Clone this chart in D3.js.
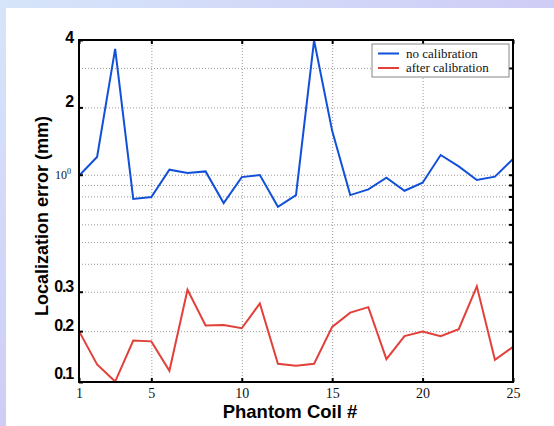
<!DOCTYPE html>
<html>
<head>
<meta charset="utf-8">
<script src="https://cdn.jsdelivr.net/npm/d3@7"></script>
<style>
  body { margin: 0; }
  svg { display: block; }
</style>
</head>
<body>
<svg id="chart"></svg>
<script>
// coil numbers and localization errors (mm)
const coils = d3.range(1, 26);
const noCalibration = [0.99, 1.20, 3.65, 0.78, 0.795, 1.053, 1.018, 1.035, 0.747, 0.976,
  0.997, 0.719, 0.811, 3.98, 1.57, 0.811, 0.86, 0.97, 0.848, 0.921,
  1.225, 1.089, 0.947, 0.98, 1.175];
const afterCalibration = [0.200, 0.142, 0.119, 0.1815, 0.180, 0.133, 0.306, 0.212, 0.213, 0.206,
  0.266, 0.143, 0.140, 0.143, 0.209, 0.242, 0.256, 0.150, 0.190, 0.199,
  0.190, 0.204, 0.317, 0.149, 0.170];
const seriesNames = ["no calibration", "after calibration"];

const xTicks = [1, 5, 10, 15, 20, 25];
const yTicks = [0.1185, 0.2, 0.3, 1, 2, 4];
const yTickLabels = ["0.1", "0.2", "0.3", "10^0", "2", "4"];
const yGrid = [0.2, 0.3, 0.4, 0.5, 0.6, 0.7, 0.8, 0.9, 1, 2, 3];

const width = 554, height = 426;
const plotLeft = 79, plotRight = 513, plotTop = 40, plotBottom = 382;

const svg = d3.select('#chart')
  .attr('width', width)
  .attr('height', height);

// background frame
const defs = svg.append('defs');
const grad = defs.append('linearGradient')
  .attr('id', 'frame')
  .attr('x1', '0%').attr('y1', '0%')
  .attr('x2', '100%').attr('y2', '100%');
grad.append('stop').attr('offset', '0%').attr('stop-color', '#d6e5fa');
grad.append('stop').attr('offset', '100%').attr('stop-color', '#c8b4f2');
svg.append('rect').attr('width', width).attr('height', height).attr('fill', 'url(#frame)');
svg.append('rect').attr('x', 6).attr('y', 8).attr('width', width - 6).attr('height', height - 8).attr('fill', '#fff');

const x = d3.scaleLinear().domain([1, 25]).range([plotLeft, plotRight]);
const y = d3.scaleLog().domain([0.1185, 4]).range([plotBottom, plotTop]);

// grid
svg.append('g')
  .attr('class', 'grid')
  .attr('transform', `translate(0, ${plotBottom})`)
  .call(d3.axisBottom(x).tickValues([5, 10, 15, 20]).tickSize(-(plotBottom - plotTop)).tickFormat(''));
svg.append('g')
  .attr('class', 'grid')
  .attr('transform', `translate(${plotLeft}, 0)`)
  .call(d3.axisLeft(y).tickValues(yGrid).tickSize(-(plotRight - plotLeft)).tickFormat(''));
svg.selectAll('.grid path').remove();
svg.selectAll('.grid line')
  .attr('stroke', '#999')
  .attr('stroke-width', 1)
  .attr('stroke-dasharray', '1,2');

// lines
const line = d3.line()
  .x((d, i) => x(coils[i]))
  .y(d => y(d));
const colors = ['#1150d8', '#e2403a'];
[noCalibration, afterCalibration].forEach((s, k) => {
  svg.append('path')
    .datum(s)
    .attr('fill', 'none')
    .attr('stroke', colors[k])
    .attr('stroke-width', 2)
    .attr('stroke-linejoin', 'miter')
    .attr('d', line);
});

// frame and ticks (inward)
svg.append('rect')
  .attr('x', plotLeft).attr('y', plotTop)
  .attr('width', plotRight - plotLeft).attr('height', plotBottom - plotTop)
  .attr('fill', 'none').attr('stroke', '#000').attr('stroke-width', 2);

const xAxis = svg.append('g')
  .attr('transform', `translate(0, ${plotBottom})`)
  .call(d3.axisBottom(x).tickValues(xTicks).tickSize(-4).tickPadding(6));
xAxis.select('.domain').remove();
xAxis.selectAll('line').attr('stroke-width', 2);
xAxis.selectAll('text')
  .attr('font-family', '"Liberation Serif", serif')
  .attr('font-size', 14)
  .attr('fill', '#111');

svg.append('g')
  .attr('transform', `translate(0, ${plotTop})`)
  .call(d3.axisTop(x).tickValues(xTicks).tickSize(-4).tickFormat(''))
  .call(g => g.select('.domain').remove())
  .selectAll('line').attr('stroke-width', 2);

svg.append('g')
  .attr('transform', `translate(${plotRight}, 0)`)
  .call(d3.axisRight(y).tickValues(yGrid).tickSize(-4).tickFormat(''))
  .call(g => g.select('.domain').remove())
  .selectAll('line').attr('stroke-width', 2);

const yAxis = svg.append('g')
  .attr('transform', `translate(${plotLeft}, 0)`)
  .call(d3.axisLeft(y).tickValues(yTicks).tickSize(-4).tickFormat(''));
yAxis.select('.domain').remove();
yAxis.selectAll('line').attr('stroke-width', 2);

yTicks.forEach((v, i) => {
  const lab = yTickLabels[i];
  if (lab === '10^0') {
    const t = svg.append('text')
      .attr('x', 71).attr('y', y(v) + 4)
      .attr('text-anchor', 'end')
      .attr('font-family', '"Liberation Serif", serif')
      .attr('font-size', 12)
      .attr('fill', '#111');
    t.append('tspan').text('10');
    t.append('tspan').attr('dy', -5).attr('font-size', 8).text('0');
  } else {
    svg.append('text')
      .attr('x', 73)
      .attr('y', y(v) + (i === 0 ? -3 : i === yTicks.length - 1 ? 3 : 0))
      .attr('text-anchor', 'end')
      .attr('font-family', '"Liberation Sans", Arial, sans-serif')
      .attr('font-weight', 'bold')
      .attr('font-size', 16)
      .attr('letter-spacing', -1.2)
      .attr('fill', '#000')
      .text(lab);
  }
});

// axis titles
svg.append('text')
  .attr('transform', `translate(48, 216) rotate(-90)`)
  .attr('text-anchor', 'middle')
  .attr('font-family', '"Liberation Sans", Arial, sans-serif')
  .attr('font-weight', 'bold')
  .attr('font-size', 18)
  .attr('fill', '#000')
  .text('Localization error (mm)');

svg.append('text')
  .attr('x', 290)
  .attr('y', 418)
  .attr('text-anchor', 'middle')
  .attr('font-family', '"Liberation Sans", Arial, sans-serif')
  .attr('font-weight', 'bold')
  .attr('font-size', 18.5)
  .attr('fill', '#000')
  .text('Phantom Coil #');

// legend
const legend = svg.append('g').attr('transform', 'translate(372, 44)');
legend.append('rect')
  .attr('width', 137).attr('height', 33)
  .attr('fill', '#fff').attr('stroke', '#888').attr('stroke-width', 1);
seriesNames.forEach((name, i) => {
  const yy = 9.5 + i * 14.5;
  legend.append('line')
    .attr('x1', 6).attr('x2', 27).attr('y1', yy).attr('y2', yy)
    .attr('stroke', colors[i]).attr('stroke-width', 2);
  legend.append('text')
    .attr('x', 34).attr('y', yy + 4)
    .attr('font-family', '"Liberation Serif", serif')
    .attr('font-size', 13)
    .attr('fill', '#111')
    .text(name);
});
</script>
</body>
</html>
